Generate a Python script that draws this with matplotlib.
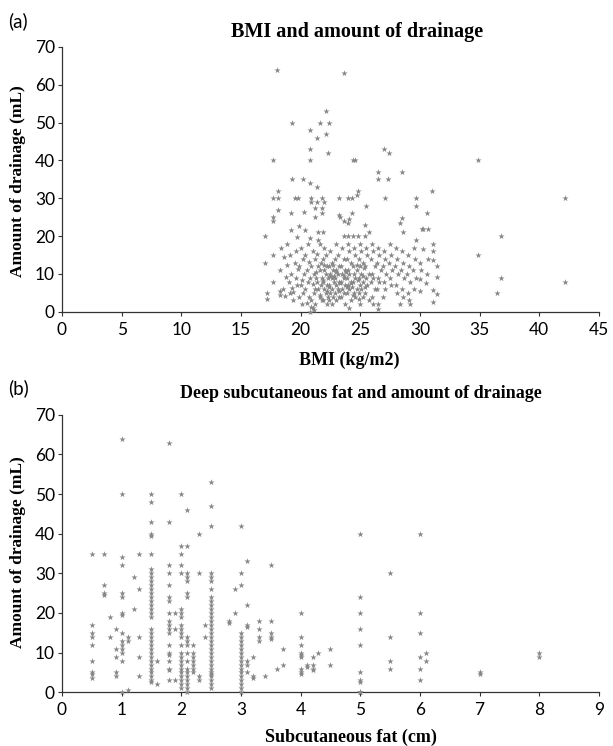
import matplotlib
matplotlib.use("Agg")
import matplotlib.pyplot as plt

# panel (a): BMI vs drainage
bmi = [18.0, 23.6, 22.1, 19.3, 21.6, 22.4, 20.8, 22.1, 21.4, 20.8, 22.3, 17.7,
       20.8, 24.4, 24.6, 27.0, 27.4, 26.5, 28.5, 26.5, 27.3, 19.3, 20.2, 20.8,
       21.4, 18.1, 17.7, 18.1, 19.5, 19.8, 20.9, 21.8, 23.2, 24.0, 24.3, 24.7,
       24.8, 27.1, 29.7, 29.7, 25.5, 18.1, 19.2, 20.3, 20.9, 21.4, 22.0, 21.2,
       21.8, 21.2, 21.8, 23.2, 23.3, 23.6, 24.0, 24.1, 24.3, 25.4, 28.5, 28.3,
       30.3, 30.7, 17.7, 17.7, 17.0, 19.2, 19.9, 19.7, 20.4, 20.8, 21.5, 21.9,
       21.5, 23.6, 24.0, 24.4, 24.8, 25.4, 25.7, 28.6, 29.7, 30.3, 17.0, 17.7,
       17.7, 17.2, 17.2, 18.3, 18.3, 24.1, 26.5, 26.5, 20.8, 21.1, 28.3, 29.2,
       31.0, 30.6, 30.2, 31.1, 31.1, 30.7, 31.1, 31.4, 30.6, 31.4, 30.5, 31.1,
       31.4, 31.1, 30.0, 30.0, 34.9, 34.9, 36.8, 36.8, 36.5, 42.2, 42.2,
       18.4, 18.6, 18.3, 18.8, 18.5, 18.7, 18.9, 19.1, 18.9, 19.2, 19.0, 19.3,
       19.1, 19.4, 19.6, 19.5, 19.8, 19.6, 19.7, 19.4, 19.9, 20.1, 20.0, 20.2,
       19.9, 20.3, 20.1, 20.0, 20.2, 20.6, 20.4, 20.7, 20.5, 20.8, 20.6, 20.4,
       20.7, 20.5, 20.9, 21.0, 21.2, 20.9, 21.1, 21.3, 21.0, 21.2, 21.1, 20.9,
       21.2, 21.0, 21.6, 21.4, 21.7, 21.5, 21.6, 21.8, 21.4, 21.7, 21.5, 21.6,
       21.8, 22.0, 22.1, 21.9, 22.2, 22.0, 22.1, 22.3, 21.9, 22.2, 22.0, 22.1,
       22.3, 21.9, 22.2, 22.5, 22.6, 22.4, 22.7, 22.5, 22.6, 22.8, 22.4, 22.6,
       22.5, 22.7, 22.4, 22.6, 23.0, 23.1, 22.9, 23.2, 23.0, 23.1, 22.9, 23.2,
       23.0, 23.1, 22.9, 23.2, 23.0, 23.5, 23.6, 23.4, 23.7, 23.5, 23.6, 23.4,
       23.7, 23.5, 23.6, 23.4, 23.7, 24.0, 24.1, 23.9, 24.2, 24.0, 24.1, 23.9,
       24.2, 24.0, 24.1, 23.9, 24.2, 24.5, 24.6, 24.4, 24.7, 24.5, 24.6, 24.4,
       24.7, 24.5, 24.6, 25.0, 25.1, 24.9, 25.2, 25.0, 25.1, 24.9, 25.2, 25.0,
       25.1, 24.9, 25.2, 25.0, 25.5, 25.6, 25.4, 25.7, 25.5, 25.6, 25.4, 25.7,
       26.0, 26.1, 25.9, 26.2, 26.0, 26.1, 25.9, 26.2, 26.0, 26.1, 26.5, 26.6,
       26.4, 26.7, 26.5, 26.6, 26.4, 27.0, 27.1, 26.9, 27.2, 27.0, 27.1, 26.9,
       27.5, 27.6, 27.4, 27.7, 27.5, 27.6, 28.0, 28.1, 27.9, 28.2, 28.0, 28.1,
       28.5, 28.6, 28.4, 28.7, 28.5, 28.6, 29.0, 29.1, 28.9, 29.2, 29.0, 29.1,
       29.5, 29.6, 29.4, 29.7, 29.5, 30.0, 30.1,
       21.3, 21.9, 22.4, 22.8, 23.3, 23.8, 24.3, 24.8, 25.3, 21.6, 22.2, 22.7,
       23.2, 23.9, 24.4, 24.9, 25.4, 22.0, 22.5, 23.0, 23.6, 24.2, 24.7, 25.2]
bmi_drain = [64, 63, 53, 50, 50, 50, 48, 47, 46, 43, 42, 40,
             40, 40, 40, 43, 42, 37, 37, 35, 35, 35, 35, 34,
             33, 32, 30, 30, 30, 30, 30, 30, 30, 30, 30, 31,
             32, 30, 30, 28, 28, 27, 26, 26.5, 29, 29, 29, 27.5,
             27.5, 25, 26, 25.5, 25, 24, 23.5, 24.5, 26, 23, 24.7, 23.5,
             22, 22, 25, 24, 20, 21.7, 22.8, 19.7, 21.7, 19.6, 21, 21.2,
             19, 20, 20, 20, 20, 20, 21, 21, 19, 16.6, 13, 15,
             8, 5, 3.5, 5.5, 4.5, 1, 2, 0.7, 0, 0.4, 2, 2,
             32, 26, 22, 18, 16, 14, 13.7, 12, 10, 9.3, 7.6, 5.8,
             4.7, 2.7, 8.6, 5.6, 40, 15, 20, 9, 5, 30, 8,
             17, 14.5, 11, 9.2, 6, 4.3, 18, 15, 12.3, 10, 8, 6.4,
             5, 3, 16, 13, 11.2, 9, 7, 5.2, 4, 2, 17, 14,
             12, 10, 8.3, 7, 5, 18, 15, 13.2, 11, 9, 8, 6,
             4, 2.3, 1.2, 16, 14, 12, 10, 9, 7.3, 6, 5, 3,
             2, 1, 18, 15.3, 13, 12, 11, 9, 8, 7, 6, 4,
             3, 17, 15, 14, 12, 11, 10, 9, 8, 7, 6, 5,
             4, 3, 2, 16, 13, 12, 11, 10, 9, 8, 7, 6,
             5, 4, 3, 2, 18, 15, 14, 12, 11, 10, 9, 8,
             7, 6, 5, 4, 3, 17, 14, 12, 11, 10, 9, 8,
             7, 6, 5, 4, 2, 18, 16, 14, 13, 11, 10, 9,
             8, 7, 6, 5, 3, 17, 15, 12, 11, 10, 9, 8,
             6, 5, 4, 18, 16, 14, 13, 12, 10, 9, 8, 7,
             6, 5, 4, 2, 17, 15, 12, 10, 9, 7, 5, 3,
             18, 16, 14, 12, 10, 9, 8, 6, 4, 2, 17, 15,
             13, 11, 9, 8, 6, 16, 14, 12, 10, 8, 6, 4,
             18, 15, 13, 11, 9, 7, 17, 14, 12, 10, 7, 5,
             16, 13, 11, 9, 6, 4, 15, 12, 10, 8, 5, 3,
             17, 14, 11, 9, 6, 13, 11,
             10.5, 8.5, 6.5, 9.5, 7.5, 10.5, 6.5, 8.5, 11.5, 4.5, 5.5, 12.5,
             5.5, 6.5, 4.5, 3.5, 6.5, 12.5, 9.5, 10.5, 9.5, 7.5, 12.5, 9.5]

# panel (b): subcutaneous fat columns and drainage values in each
fat_levels = [0.5, 0.7, 0.8, 0.9, 1.0, 1.1, 1.2, 1.3, 1.5, 1.6, 1.8, 1.9,
              2.0, 2.1, 2.2, 2.3, 2.4, 2.5, 2.8, 2.9, 3.0, 3.1, 3.2, 3.3,
              3.4, 3.5, 3.6, 3.7, 4.0, 4.1, 4.2, 4.3, 4.5, 5.0, 5.5, 6.0,
              6.1, 7.0, 8.0]
fat_drain = [
    [35, 17, 15, 14, 12, 8, 5, 4.5, 3.5],
    [35, 27, 25, 24.5],
    [19, 14],
    [16, 11, 9, 5, 4],
    [64, 50, 34, 32, 25, 24, 20, 19.5, 15, 13, 12, 11, 10, 8, 0],
    [14, 13, 0.5],
    [29, 21],
    [35, 26, 14, 9, 4],
    [50, 48, 43, 40, 39.5, 35, 31, 30, 29, 28, 27, 26, 25, 24, 23, 22, 21, 20,
     19, 16, 15, 14, 13, 12, 11, 10, 9, 8, 7, 6, 5, 4, 3, 2.5],
    [8, 2],
    [63, 43, 32, 30, 27, 24, 23, 20, 18, 17, 16, 15, 12, 10, 9.5, 8, 6, 5.5, 3],
    [20, 16, 3],
    [50, 37, 35, 32, 30, 21, 20, 19, 17, 16, 15, 14, 12, 10, 9, 8, 7, 6, 5,
     4, 3, 2, 1],
    [46, 37, 30, 29, 28, 25, 24, 14, 13, 12, 10, 8, 6, 5, 4, 3, 2, 1, 0],
    [12, 10, 9, 8, 7, 6, 5],
    [40, 30, 4, 3],
    [17, 14],
    [53, 47, 42, 30, 29, 28, 26, 24, 23, 22, 21, 20, 19, 18, 17, 16, 15, 14,
     13, 12, 11, 10, 9, 8, 7, 6, 5, 4.5, 4, 3, 2, 1],
    [18, 17.5],
    [26, 20],
    [42, 30, 27, 15, 14, 13, 12, 11, 10, 9, 8, 7, 6, 5, 4, 3, 2, 1, 0],
    [33, 22, 17, 16.5, 8, 7, 5],
    [9, 4, 3.5],
    [18, 16, 14, 13],
    [4],
    [32, 18, 15, 14, 13.5],
    [6],
    [11, 7],
    [20, 14, 12, 10, 9.5, 9, 6, 5, 4.5],
    [7, 6.5],
    [9, 7, 6, 5.5],
    [10],
    [11, 7],
    [40, 24, 20, 16, 12, 5, 3, 2.5, 0, 0, 0],
    [30, 14, 8, 6],
    [40, 20, 15, 9, 6, 3],
    [10, 8],
    [5, 4.5],
    [10, 9],
]

fat_x = []
fat_y = []
for lvl, vals in zip(fat_levels, fat_drain):
    for v in vals:
        fat_x.append(lvl)
        fat_y.append(v)

serif = "Liberation Serif"
tickfont = "Lato"
mark_col = "#878787"

fig = plt.figure(figsize=(6.13, 7.46), dpi=100)
ax1 = fig.add_axes([0.101, 0.582, 0.876, 0.355])
ax2 = fig.add_axes([0.101, 0.072, 0.876, 0.372])

def style(ax, xmax, xstep):
    ax.set_ylim(0, 70)
    ax.set_xlim(0, xmax)
    ax.set_yticks(range(0, 71, 10))
    ax.set_xticks([i * xstep for i in range(int(round(xmax / xstep)) + 1)])
    for s in ["top", "right"]:
        ax.spines[s].set_visible(False)
    for s in ["left", "bottom"]:
        ax.spines[s].set_color("#333333")
        ax.spines[s].set_linewidth(0.9)
    ax.tick_params(direction="out", length=3, width=0.8, color="#333333",
                   labelsize=12.5)
    ax.tick_params(axis="x", pad=4)
    ax.tick_params(axis="y", pad=2)
    for lab in ax.get_xticklabels() + ax.get_yticklabels():
        lab.set_fontfamily(tickfont)

ax1.scatter(bmi, bmi_drain, marker="*", s=22, color=mark_col, linewidths=0,
            clip_on=False, zorder=3)
style(ax1, 45, 5)
ax2.scatter(fat_x, fat_y, marker="*", s=22, color=mark_col, linewidths=0,
            clip_on=False, zorder=3)
style(ax2, 9, 1)
ax2.set_xticklabels([str(i) for i in range(10)])

fig.text(0.583, 0.957, "BMI and amount of drainage", ha="center", va="center",
         fontfamily=serif, fontweight="bold", fontsize=14.5)
fig.text(0.588, 0.473, "Deep subcutaneous fat and amount of drainage",
         ha="center", va="center", fontfamily=serif, fontweight="bold",
         fontsize=13)
fig.text(0.013, 0.972, "(a)", ha="left", va="center", fontfamily=tickfont,
         fontsize=13.5)
fig.text(0.013, 0.479, "(b)", ha="left", va="center", fontfamily=tickfont,
         fontsize=13.5)
fig.text(0.57, 0.517, "BMI (kg/m2)", ha="center", va="center",
         fontfamily=serif, fontweight="bold", fontsize=13)
fig.text(0.573, 0.011, "Subcutaneous fat (cm)", ha="center", va="center",
         fontfamily=serif, fontweight="bold", fontsize=13)
fig.text(0.03, 0.757, "Amount of drainage (mL)", ha="center", va="center",
         rotation=90, fontfamily=serif, fontweight="bold", fontsize=12.5)
fig.text(0.03, 0.26, "Amount of drainage (mL)", ha="center", va="center",
         rotation=90, fontfamily=serif, fontweight="bold", fontsize=12.5)

fig.savefig("out.png", dpi=100)
